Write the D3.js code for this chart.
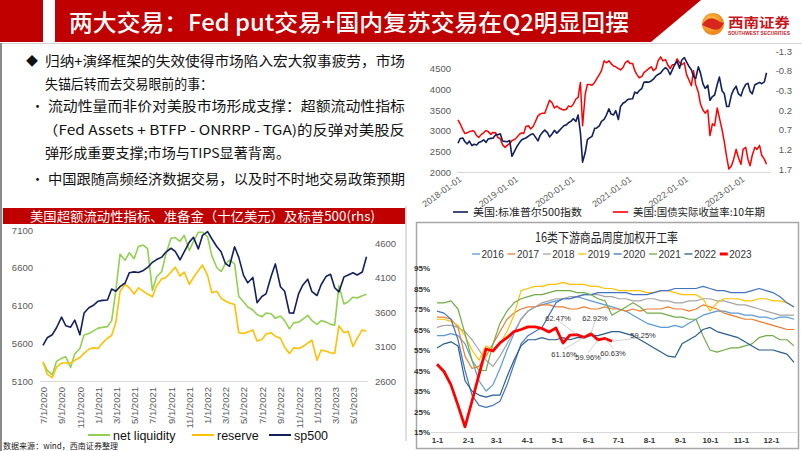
<!DOCTYPE html>
<html>
<head>
<meta charset="utf-8">
<script src="https://cdn.jsdelivr.net/npm/d3@7"></script>
<style>
  body { margin: 0; background: #fff; }
  svg { display: block; font-family: "Noto Sans CJK SC", "Noto Sans", sans-serif; }
  .num { font-family: "Liberation Sans", Arial, sans-serif; }
</style>
</head>
<body>
<script>
// ---------- data ----------
// top right: S&P 500 and US 10y real yield, semi-monthly points from 2018-01-01
var spx = [
  2695, 2810, 2822, 2731, 2678, 2747, 2640, 2670, 2655, 2711, 2735, 2780, 2718, 2800, 2813, 2818, 2901, 2904, 2924, 2750, 2740, 2730, 2760, 2380,
  2507, 2610, 2706, 2775, 2803, 2822, 2867, 2905, 2923, 2850, 2752, 2886, 2964, 3014, 2953, 2847, 2926, 3007, 2940, 2995, 3066, 3120, 3140, 3191,
  3231, 3289, 3225, 3380, 2954, 2240, 2470, 2783, 2830, 2863, 3055, 3066, 3115, 3226, 3271, 3372, 3526, 3401, 3380, 3483, 3270, 3585, 3662, 3694,
  3756, 3768, 3773, 3934, 3901, 3968, 4020, 4170, 4181, 4173, 4202, 4246, 4320, 4360, 4395, 4468, 4524, 4480, 4357, 4471, 4613, 4682, 4513, 4709,
  4766, 4662, 4546, 4472, 4306, 4262, 4545, 4392, 4131, 4023, 4101, 3735, 3825, 3863, 4118, 4297, 3966, 3901, 3585, 3583, 3871, 3992, 4076, 3895,
  3839, 3999, 4119, 4147, 3951, 3891, 4109, 4137, 4169, 4136, 4180, 4400
];
var realYield = [
  0.45, 0.55, 0.70, 0.80, 0.78, 0.75, 0.73, 0.74, 0.85, 0.90, 0.82, 0.78, 0.72, 0.75, 0.82, 0.77, 0.78, 0.90, 0.93, 1.08, 1.15, 1.10, 1.05, 0.98,
  0.95, 0.90, 0.82, 0.78, 0.80, 0.62, 0.60, 0.68, 0.62, 0.50, 0.35, 0.30, 0.28, 0.28, 0.10, -0.05, 0.02, 0.15, 0.10, 0.15, 0.18, 0.20, 0.18, 0.10,
  0.12, 0.05, -0.08, -0.12, -0.50, 0.60, -0.20, -0.45, -0.45, -0.43, -0.50, -0.60, -0.70, -0.80, -1.05, -1.00, -1.05, -0.98, -0.92, -0.90, -0.85, -0.82, -0.88, -1.00,
  -1.05, -0.98, -0.98, -0.80, -0.70, -0.62, -0.65, -0.75, -0.80, -0.85, -0.90, -0.80, -0.85, -1.05, -1.15, -1.05, -1.08, -0.95, -0.85, -0.95, -0.95, -1.10, -1.00, -0.95,
  -1.00, -0.70, -0.55, -0.42, -0.80, -0.45, -0.25, 0.05, 0.20, 0.28, 0.20, 0.85, 0.55, 0.60, 0.15, 0.40, 0.70, 1.00, 1.40, 1.70, 1.62, 1.45, 1.20, 1.40,
  1.58, 1.20, 1.15, 1.45, 1.62, 1.35, 1.15, 1.20, 1.10, 1.35, 1.45, 1.58
];
var spxTicks = [2000, 2500, 3000, 3500, 4000, 4500];
var yieldTicks = [-1.3, -0.8, -0.3, 0.2, 0.7, 1.2, 1.7];
var yearTicks = ["2018-01-01", "2019-01-01", "2020-01-01", "2021-01-01", "2022-01-01", "2023-01-01"];

// bottom left: semi-monthly points from 2020-07-01 (billion USD)
var netLiquidity = [
  5350, 5240, 5180, 5360, 5400, 5420, 5280, 5460, 5530, 5710, 5730, 5760, 5800, 5810, 5820, 5900, 6300, 6780, 6700, 6800,
  6720, 6880, 6900, 6850, 6300, 6480, 6550, 6780, 6990, 7000, 6950, 7030, 6830, 6950, 7070, 7070, 7010, 6760, 6600, 6550,
  6650, 6700, 6650, 6220, 6150, 6080, 6040, 5980, 5950, 6000, 5990, 5930, 5960, 5900, 5790, 5870, 5880, 5920, 5970, 5900,
  5850, 5900, 5880, 5850, 5840, 6360, 6120, 6150, 6210, 6200, 6230, 6250
];
var reserve = [
  2875, 2700, 2650, 2800, 2860, 2860, 2860, 2900, 2940, 3000, 3060, 3080, 3070, 3150, 3220, 3260, 3450, 3900, 4000, 3950,
  3860, 3950, 3900, 3860, 3820, 3980, 4080, 4100, 4180, 4250, 4120, 4180, 4000, 4100, 4200, 4280, 4130, 3880, 3900, 3800,
  3760, 3730, 3710, 3300, 3290, 3310, 3340, 3180, 3200, 3280, 3300, 3250, 3220, 3090, 3000, 3080, 3070, 3100, 3150, 3190,
  2900, 3050, 3030, 3010, 3000, 3400, 3300, 3320, 3100, 3220, 3340, 3320
];
var sp500 = spx.slice(60);   // same index, from 2020-07-01
var liqTicks = [5100, 5600, 6100, 6600, 7100];
var spTicks = [2600, 3100, 3600, 4100, 4600];
var dateTicks = ["2020-07-01", "2020-09-01", "2020-11-01", "2021-01-01", "2021-03-01", "2021-05-01", "2021-07-01", "2021-09-01", "2021-11-01",
  "2022-01-01", "2022-03-01", "2022-05-01", "2022-07-01", "2022-09-01", "2022-11-01", "2023-01-01", "2023-03-01", "2023-05-01"];

// bottom right: weekly operating rate (%)
var years = ["2016", "2017", "2018", "2019", "2020", "2021", "2022", "2023"];
var rate2016 = [62,62,63,62,58,50,40,35,38,46,55,63,70,74,76,77,78,79,80,80,81,80,79,78,77,76,75,74,72,70,68,67,66,66,67,66,68,70,72,73,74,74,73,73,72,72,71,71,70,71,71,70];
var rate2017 = [71,71,70,66,52,46,47,52,58,64,70,73,75,76,76,77,77,76,76,75,75,76,75,75,76,75,75,74,75,74,75,75,75,76,75,75,74,75,77,76,75,73,72,71,70,70,69,68,67,66,65,65];
var rate2018 = [66,67,67,66,64,60,55,50,47,52,58,64,70,74,76,78,79,80,80,81,81,82,82,82,81,81,80,80,79,79,80,80,79,79,78,78,79,79,80,80,79,79,78,77,77,76,75,74,73,72,72,72];
var rate2019 = [70,70,69,67,62,55,50,57,55,58,64,72,84,85,86,86,87,87,88,87,87,87,86,86,85,85,84,84,84,84,83,83,84,84,83,82,82,82,80,74,78,80,80,80,79,79,80,80,79,79,78,76];
var rate2020 = [74,73,70,60,45,33,28,27,28,30,38,48,58,62,64,66,72,78,80,80,81,82,82,83,83,83,83,83,82,82,82,83,84,84,85,85,85,85,86,85,84,84,83,83,83,84,85,84,83,81,78,76];
var rate2021 = [78,78,79,75,63,50,45,45,58,68,74,78,80,81,82,82,83,84,84,84,83,83,82,80,79,72,74,76,78,76,73,73,73,72,71,71,70,70,62,55,54,55,56,56,57,58,61,62,62,60,60,57];
var rate2022 = [56,58,59,57,40,35,33,32,33,33,42,50,57,60,60,61,60,60,61,60,61,61,62,62,63,64,64,63,62,60,58,56,54,52,51.5,58,60,62,65,66,64,63,62,61,59,57,55,55,55,54,53,49];
var rate2023 = [48,44.5,38,28,17.5,30,43,55.5,54.5,58.5,61,64,65,66.3,66.3,65.5,63.8,65.7,58.4,62.3,62.47,61.16,62.92,59.96,60.63,59.25];
var rateTicks = [15, 25, 35, 45, 55, 65, 75, 85, 95];
var monthLabels = ["1-1", "2-1", "3-1", "4-1", "5-1", "6-1", "7-1", "8-1", "9-1", "10-1", "11-1", "12-1"];
var monthDay = [0, 31, 59, 90, 120, 151, 181, 212, 243, 273, 304, 334];

// ---------- page ----------
var red = "#C00000", navy = "#12205E", axisGray = "#595959";
var parseDay = d3.timeParse("%Y-%m-%d");
var plain = function(d) { return String(d); };

var svg = d3.select("body").append("svg")
    .attr("width", 802)
    .attr("height", 451);

function halfMonth(start, i) {
  var s = parseDay(start);
  return new Date(s.getFullYear(), s.getMonth() + Math.floor(i / 2), i % 2 ? 15 : 1);
}

// header bar
svg.append("rect").attr("x", 0).attr("y", 0).attr("width", 43).attr("height", 42).attr("fill", red);
svg.append("path").attr("d", "M55,0H701L651,42H55Z").attr("fill", red);
svg.append("line").attr("x1", 0).attr("x2", 802).attr("y1", 43.5).attr("y2", 43.5).attr("stroke", "#d4d4d4");
svg.append("line").attr("x1", 1).attr("x2", 1).attr("y1", 43).attr("y2", 451).attr("stroke", "#8a8a8a").attr("stroke-width", 2);
svg.append("text").attr("x", 69).attr("y", 31)
    .attr("textLength", 560).attr("lengthAdjust", "spacingAndGlyphs")
    .style("font-size", "23px").style("font-weight", 500).attr("fill", "#fff")
    .text("两大交易：Fed put交易+国内复苏交易在Q2明显回摆");

// logo
var grad = svg.append("defs").append("radialGradient").attr("id", "lg").attr("cx", "40%").attr("cy", "40%");
grad.append("stop").attr("offset", "0%").attr("stop-color", "#FFD35A");
grad.append("stop").attr("offset", "100%").attr("stop-color", "#F08A1C");
svg.append("circle").attr("cx", 713).attr("cy", 24).attr("r", 11).attr("fill", "url(#lg)");
svg.append("path").attr("d", "M702,25 Q708,15 717,20 Q723,24 724,22 Q721,32 712,29 Q706,27 702,25Z").attr("fill", "#D7261E");
svg.append("text").attr("x", 728).attr("y", 27).attr("textLength", 62).attr("lengthAdjust", "spacingAndGlyphs")
    .style("font-size", "13px").style("font-weight", 700).attr("fill", "#C8161D").text("西南证券");
svg.append("text").attr("class", "num").attr("x", 728).attr("y", 35).attr("textLength", 62).attr("lengthAdjust", "spacingAndGlyphs")
    .style("font-size", "4.5px").style("font-weight", 700).attr("fill", "#C8161D").text("SOUTHWEST SECURITIES");

// bullet text
var lines = [
  {t: "归纳+演绎框架的失效使得市场陷入宏大叙事疲劳，市场", x: 45, y: 66, w: 360, mark: "◆"},
  {t: "失锚后转而去交易眼前的事：", x: 45, y: 89, w: 168},
  {t: "流动性量而非价对美股市场形成支撑：超额流动性指标", x: 48, y: 111, w: 357, mark: "•"},
  {t: "（Fed Assets + BTFP  - ONRRP - TGA)的反弹对美股反", x: 43, y: 135, w: 362},
  {t: "弹形成重要支撑;市场与TIPS显著背离。", x: 45, y: 158, w: 245},
  {t: "中国跟随高频经济数据交易，以及时不时地交易政策预期", x: 48, y: 184, w: 357, mark: "•"}
];
lines.forEach(function(d) {
  svg.append("text").attr("x", d.x).attr("y", d.y)
      .attr("textLength", d.w).attr("lengthAdjust", "spacingAndGlyphs")
      .style("font-size", "13.5px").attr("fill", "#111").text(d.t);
  if (d.mark) {
    svg.append("text").attr("x", d.mark == "◆" ? 26 : 31).attr("y", d.y)
        .style("font-size", d.mark == "◆" ? "12px" : "13px").attr("fill", "#111").text(d.mark);
  }
});

// ---------- chart 1: S&P 500 vs real yield ----------
var x1 = d3.scaleTime().domain([parseDay("2018-01-01"), parseDay("2023-07-01")]).range([458, 769]),
    y1 = d3.scaleLinear().domain([2000, 5000]).range([172, 48]),
    y1r = d3.scaleLinear().domain([1.7, -1.3]).range([169, 51]);

svg.append("line").attr("x1", 457).attr("x2", 771).attr("y1", 172.5).attr("y2", 172.5).attr("stroke", "#d9d9d9");

var ax1 = svg.append("g").attr("class", "num").attr("transform", "translate(451,0)")
    .call(d3.axisLeft(y1).tickValues(spxTicks).tickSize(0).tickPadding(0).tickFormat(plain));
var ax1r = svg.append("g").attr("class", "num").attr("transform", "translate(792,0)")
    .call(d3.axisLeft(y1r).tickValues(yieldTicks).tickSize(0).tickPadding(0)
      .tickFormat(function(d) { return d.toFixed(1); }));
var ax1b = svg.append("g").attr("class", "num").attr("transform", "translate(0,172)")
    .call(d3.axisBottom(x1).tickValues(yearTicks.map(parseDay)).tickSize(0)
      .tickFormat(d3.timeFormat("%Y-%m-%d")));
ax1b.selectAll("text").attr("x", 0).attr("y", 0).attr("dy", "0.35em")
    .attr("transform", "translate(2,6) rotate(-36)").style("text-anchor", "end");

[ax1, ax1r, ax1b].forEach(function(g) {
  g.select(".domain").remove();
  g.selectAll("text").style("font-size", "9.5px").attr("fill", axisGray);
});
ax1b.selectAll("text").style("font-size", "9px");

svg.append("path").datum(realYield)
    .attr("fill", "none").attr("stroke", "#FF0000").attr("stroke-width", 1.5).attr("stroke-linejoin", "round")
    .attr("d", d3.line().x(function(d, i) { return x1(halfMonth("2018-01-01", i)); }).y(function(d) { return y1r(d); }));
svg.append("path").datum(spx)
    .attr("fill", "none").attr("stroke", navy).attr("stroke-width", 1.6).attr("stroke-linejoin", "round")
    .attr("d", d3.line().x(function(d, i) { return x1(halfMonth("2018-01-01", i)); }).y(function(d) { return y1(d); }));

var leg1 = [
  {name: "美国:标准普尔500指数", c: navy, x: 453, w: 109},
  {name: "美国:国债实际收益率:10年期", c: "#FF0000", x: 613, w: 132}
];
leg1.forEach(function(d) {
  svg.append("line").attr("x1", d.x).attr("x2", d.x + 15).attr("y1", 212).attr("y2", 212)
      .attr("stroke", d.c).attr("stroke-width", 1.6);
  svg.append("text").attr("x", d.x + 20).attr("y", 216).attr("textLength", d.w).attr("lengthAdjust", "spacingAndGlyphs")
      .style("font-size", "10.5px").attr("fill", "#222").text(d.name);
});

// ---------- chart 2: net liquidity, reserve, sp500 ----------
svg.append("rect").attr("x", 3).attr("y", 208).attr("width", 402).attr("height", 16).attr("fill", red);
svg.append("text").attr("x", 30).attr("y", 221).attr("textLength", 345).attr("lengthAdjust", "spacingAndGlyphs")
    .style("font-size", "13px").attr("fill", "#fff").text("美国超额流动性指标、准备金（十亿美元）及标普500(rhs)");
svg.append("line").attr("x1", 406).attr("x2", 406).attr("y1", 206).attr("y2", 441).attr("stroke", "#bdbdbd");

var x2 = d3.scaleTime().domain([parseDay("2020-07-01"), parseDay("2023-05-01")]).range([43, 353]),
    y2 = d3.scaleLinear().domain([5100, 7100]).range([381, 230]),
    y2r = d3.scaleLinear().domain([2600, 4600]).range([381, 243]);

svg.append("line").attr("x1", 40).attr("x2", 368).attr("y1", 381.5).attr("y2", 381.5).attr("stroke", "#d9d9d9");

var ax2 = svg.append("g").attr("class", "num").attr("transform", "translate(33,0)")
    .call(d3.axisLeft(y2).tickValues(liqTicks).tickSize(0).tickPadding(0).tickFormat(plain));
var ax2r = svg.append("g").attr("class", "num").attr("transform", "translate(375,0)")
    .call(d3.axisRight(y2r).tickValues(spTicks).tickSize(0).tickPadding(0).tickFormat(plain));
var ax2b = svg.append("g").attr("class", "num").attr("transform", "translate(0,381)")
    .call(d3.axisBottom(x2).tickValues(dateTicks.map(parseDay)).tickSize(0)
      .tickFormat(d3.timeFormat("%-m/%-d/%Y")));
ax2b.selectAll("text").attr("x", 0).attr("y", 0).attr("dy", "0.35em")
    .attr("transform", "translate(0,6) rotate(-90)").style("text-anchor", "end");

[ax2, ax2r, ax2b].forEach(function(g) {
  g.select(".domain").remove();
  g.selectAll("text").style("font-size", "9.5px").attr("fill", axisGray);
});

var series2 = [
  {v: netLiquidity, y: y2, c: "#92D050"},
  {v: reserve, y: y2r, c: "#FFC000"},
  {v: sp500, y: y2r, c: navy}
];
series2.forEach(function(s) {
  svg.append("path").datum(s.v)
      .attr("fill", "none").attr("stroke", s.c).attr("stroke-width", 1.6).attr("stroke-linejoin", "round")
      .attr("d", d3.line().x(function(d, i) { return x2(halfMonth("2020-07-01", i)); }).y(function(d) { return s.y(d); }));
});

var leg2 = [
  {name: "net liquidity", c: "#92D050", x: 88},
  {name: "reserve", c: "#FFC000", x: 192},
  {name: "sp500", c: navy, x: 269}
];
leg2.forEach(function(d) {
  svg.append("line").attr("x1", d.x).attr("x2", d.x + 22).attr("y1", 435).attr("y2", 435)
      .attr("stroke", d.c).attr("stroke-width", 2);
  svg.append("text").attr("class", "num").attr("x", d.x + 25).attr("y", 439.5)
      .style("font-size", "12.5px").attr("fill", "#111").text(d.name);
});

svg.append("text").attr("x", 3).attr("y", 449).attr("textLength", 115).attr("lengthAdjust", "spacingAndGlyphs")
    .style("font-size", "8.5px").attr("fill", "#222").text("数据来源：wind，西南证券整理");

// ---------- chart 3: weekly operating rate ----------
svg.append("rect").attr("x", 416.5).attr("y", 222.5).attr("width", 382).attr("height", 226)
    .attr("fill", "none").attr("stroke", "#a6a6a6").attr("stroke-width", 1.5);
svg.append("text").attr("x", 535).attr("y", 242).attr("textLength", 143).attr("lengthAdjust", "spacingAndGlyphs")
    .style("font-size", "13px").attr("fill", "#262626").text("16类下游商品周度加权开工率");

var x3 = d3.scaleLinear().domain([0, 51]).range([437, 794]),
    y3 = d3.scaleLinear().domain([15, 95]).range([432, 268]);
var colors3 = ["#5B9BD5", "#ED7D31", "#A5A5A5", "#FFC000", "#4472C4", "#70AD47", "#255E91", "#FF0000"];
var rates = [rate2016, rate2017, rate2018, rate2019, rate2020, rate2021, rate2022, rate2023];

svg.append("line").attr("x1", 431).attr("x2", 797).attr("y1", 432.5).attr("y2", 432.5).attr("stroke", "#d9d9d9");

var ax3 = svg.append("g").attr("class", "num").attr("transform", "translate(430,0)")
    .call(d3.axisLeft(y3).tickValues(rateTicks).tickSize(0).tickPadding(0)
      .tickFormat(function(d) { return d + "%"; }));
var ax3b = svg.append("g").attr("class", "num").attr("transform", "translate(0,436)")
    .call(d3.axisBottom(x3).tickValues(monthDay.map(function(d) { return d / 7; })).tickSize(0).tickPadding(1)
      .tickFormat(function(d, i) { return monthLabels[i]; }));
[ax3, ax3b].forEach(function(g) {
  g.select(".domain").remove();
  g.selectAll("text").style("font-size", "8px").style("font-weight", 700).attr("fill", "#333");
});

var line3 = d3.line().x(function(d, i) { return x3(i); }).y(function(d) { return y3(d); });
rates.forEach(function(r, k) {
  svg.append("path").datum(r)
      .attr("fill", "none").attr("stroke", colors3[k]).attr("stroke-width", k == 7 ? 2.8 : 1.2)
      .attr("stroke-linejoin", "round").attr("d", line3);
});

// data labels on last six weeks of 2023
var labelOff = [[-19, -16], [-20, 17], [4, -15], [-10, 18], [8, 15], [31, -6]];
labelOff.forEach(function(o, j) {
  var i = rate2023.length - 6 + j, px = x3(i), py = y3(rate2023[i]);
  svg.append("line").attr("x1", px).attr("y1", py).attr("x2", px + o[0]).attr("y2", py + o[1] + (o[1] < 0 ? 2 : -5))
      .attr("stroke", "#b0b0b0").attr("stroke-width", 0.6);
  svg.append("text").attr("class", "num").attr("x", px + o[0]).attr("y", py + o[1]).attr("dy", "0.35em")
      .style("text-anchor", "middle").style("font-size", "7.5px").attr("fill", "#333")
      .text(rate2023[i].toFixed(2) + "%");
});

years.forEach(function(yr, k) {
  var lx = 472 + k * 35.4;
  svg.append("line").attr("x1", lx).attr("x2", lx + 8).attr("y1", 254).attr("y2", 254)
      .attr("stroke", colors3[k]).attr("stroke-width", k == 7 ? 3 : 1.3);
  svg.append("text").attr("class", "num").attr("x", lx + 9.5).attr("y", 257.5)
      .style("font-size", "10px").attr("fill", "#333").text(yr);
});
</script>
</body>
</html>
